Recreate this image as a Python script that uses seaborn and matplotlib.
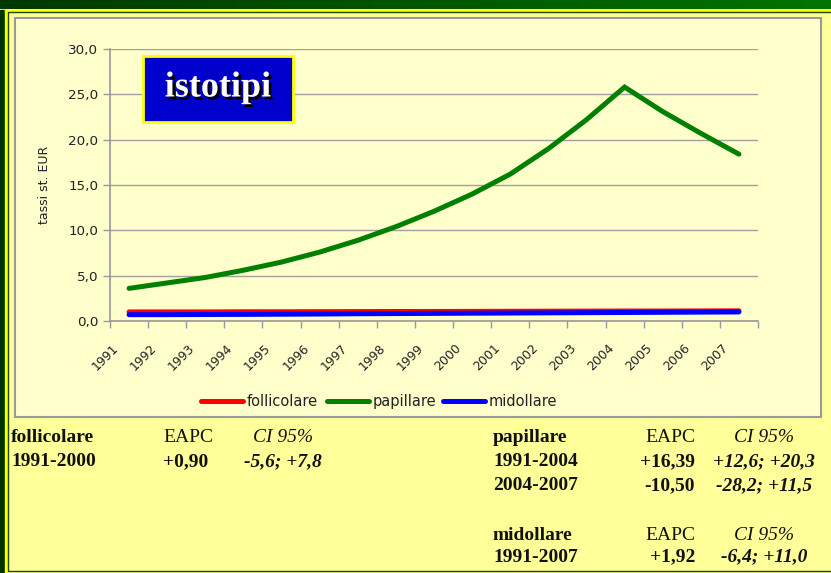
import matplotlib.pyplot as plt
import matplotlib as mpl
import matplotlib.patheffects as pe
import numpy as np
import pandas as pd
import seaborn as sns

# ---- data ----
anni = list(range(1991, 2008))
follicolare = [1.0, 1.0, 1.0, 1.02, 1.02, 1.03, 1.04, 1.05, 1.05, 1.06, 1.07, 1.08, 1.09, 1.1, 1.1, 1.11, 1.12]
papillare = [3.6, 4.2, 4.8, 5.6, 6.5, 7.6, 8.9, 10.4, 12.1, 14.0, 16.2, 19.0, 22.2, 25.8, 23.1, 20.7, 18.4]
midollare = [0.7, 0.7, 0.72, 0.73, 0.75, 0.77, 0.8, 0.82, 0.84, 0.86, 0.88, 0.9, 0.92, 0.94, 0.96, 0.98, 1.0]
serie = ['follicolare', 'papillare', 'midollare']
colori = ['#FF0000', '#008000', '#0000FF']

eapc_foll = [('1991-2000', '+0,90', '-5,6; +7,8')]
eapc_pap = [('1991-2004', '+16,39', '+12,6; +20,3'), ('2004-2007', '-10,50', '-28,2; +11,5')]
eapc_mid = [('1991-2007', '+1,92', '-6,4; +11,0')]

df = pd.DataFrame({'anno': anni * 3,
                   'tasso': follicolare + papillare + midollare,
                   'istotipo': sum([[s] * len(anni) for s in serie], [])})

W, H = 831, 573
def fx(x):
    return x / W
def fy(y):
    return 1 - y / H

fig = plt.figure(figsize=(W / 100, H / 100), dpi=100)
fig.patch.set_facecolor('#FFFF99')

# ---- slide frame ----
grad = fig.add_axes([0, fy(9.5), 1, 9.5 / H])
grad.imshow(np.linspace(0, 1, 256)[None, :], aspect='auto',
            cmap=mpl.colors.LinearSegmentedColormap.from_list('g', ['#003800', '#007400']))
grad.axis('off')
fig.patches.append(mpl.patches.Rectangle((0, 0), fx(5), fy(9.5), transform=fig.transFigure,
                                         color='#003300', zorder=0))
fig.patches.append(mpl.patches.Rectangle((fx(5), 0), fx(2.5), fy(9.5), transform=fig.transFigure,
                                         color='#FFFF00', zorder=0))
fig.patches.append(mpl.patches.Rectangle((fx(5), fy(11.5)), 1, 2 / H, transform=fig.transFigure,
                                         color='#FFFF00', zorder=0))
fig.patches.append(mpl.patches.Rectangle((fx(7.5), fy(570.5)), 1, (570.5 - 11.5) / H,
                                         transform=fig.transFigure, facecolor='none',
                                         edgecolor='#1E4A00', lw=1, zorder=1))
# chart area
fig.patches.append(mpl.patches.Rectangle((fx(15), fy(417)), fx(821) - fx(15), (417 - 18) / H,
                                         transform=fig.transFigure, facecolor='#FFFFCC',
                                         edgecolor='#999999', lw=1.5, zorder=1))

# ---- line chart ----
ax = fig.add_axes([fx(110), fy(321), fx(758) - fx(110), (321 - 49) / H])
ax.set_zorder(3)
ax.set_facecolor('none')
sns.lineplot(data=df, x='anno', y='tasso', hue='istotipo', hue_order=serie,
             palette=colori, lw=3.6, ax=ax, legend=False, zorder=3)
for ln in ax.lines:
    ln.set_solid_joinstyle('miter')
    ln.set_solid_capstyle('round')

ax.set_xlim(anni[0] - 0.5, anni[-1] + 0.5)
ax.set_ylim(0, 30)
ax.set_yticks(np.arange(0, 31, 5))
ax.yaxis.set_major_formatter(mpl.ticker.FuncFormatter(lambda v, p: f'{v:.1f}'.replace('.', ',')))
# labels sit a little left of the category centre, as in Excel
ax.set_xticks([a - 0.45 for a in anni], [str(a) for a in anni],
              rotation=45, ha='right', rotation_mode='anchor')
ax.set_xticks(np.arange(anni[0] - 0.5, anni[-1] + 1, 1), minor=True)
ax.tick_params(axis='x', which='major', length=0, pad=15, labelsize=9, labelcolor='#222222')
ax.tick_params(axis='x', which='minor', length=5, color='#999999', width=1)
ax.tick_params(axis='y', length=5, color='#999999', width=1, labelsize=9.7, labelcolor='#222222')
ax.yaxis.grid(True, color='#A0A0A0', lw=1)
ax.set_axisbelow(True)
for s in ['top', 'right']:
    ax.spines[s].set_visible(False)
for s in ['left', 'bottom']:
    ax.spines[s].set_color('#999999')
    ax.spines[s].set_linewidth(1.2)
ax.set_xlabel('')
ax.set_ylabel('')
fig.text(fx(44), fy(185), 'tassi st. EUR', rotation=90, ha='center', va='center',
         fontsize=9, color='#222222')

# legend: one entry per box so the labels sit on the same line
for c, nome, x0 in zip(colori, serie, [201, 327, 443]):
    h = mpl.lines.Line2D([], [], color=c, lw=3.6, solid_capstyle='round')
    fig.legend([h], [nome], loc='upper left', bbox_to_anchor=(fx(x0), fy(394)),
               frameon=False, fontsize=10.5, handlelength=2.9, handletextpad=0.25,
               borderpad=0, borderaxespad=0, labelcolor='#222222')

# ---- title box ----
fig.patches.append(mpl.patches.Rectangle((fx(143), fy(122)), fx(293) - fx(143), (122 - 56) / H,
                                         transform=fig.transFigure, facecolor='#0000CC',
                                         edgecolor='#FFFF00', lw=2, zorder=5))
fig.text(fx(218), fy(88), 'istotipi', ha='center', va='center', fontsize=26,
         family='Liberation Serif', weight='bold', color='white', zorder=6,
         path_effects=[pe.withSimplePatchShadow(offset=(2, -2), shadow_rgbFace='black', alpha=1)])

# ---- EAPC tables ----
serif = 'Liberation Serif'
fs = 14
def riga(x, y, s, ha='left', style='normal', weight='bold'):
    fig.text(fx(x), fy(y), s, ha=ha, va='center', fontsize=fs, family=serif,
             style=style, weight=weight, color='#111111')

riga(11, 438, 'follicolare')
riga(163, 438, 'EAPC', weight='normal')
riga(283, 438, 'CI 95%', ha='center', style='italic', weight='normal')
for i, (per, val, ci) in enumerate(eapc_foll):
    riga(11, 462 + 24 * i, per)
    riga(163, 462 + 24 * i, val)
    riga(283, 462 + 24 * i, ci, ha='center', style='italic')

for y0, nome, rows in [(438, 'papillare', eapc_pap), (535, 'midollare', eapc_mid)]:
    riga(493, y0, nome)
    riga(695, y0, 'EAPC', ha='right', weight='normal')
    riga(764, y0, 'CI 95%', ha='center', style='italic', weight='normal')
    for i, (per, val, ci) in enumerate(rows):
        y = y0 + 24 * (i + 1) - (2 if nome == 'midollare' else 0)
        riga(493, y, per)
        riga(695, y, val, ha='right')
        riga(764, y, ci, ha='center', style='italic')

fig.savefig('out.png', dpi=100, facecolor=fig.get_facecolor())
